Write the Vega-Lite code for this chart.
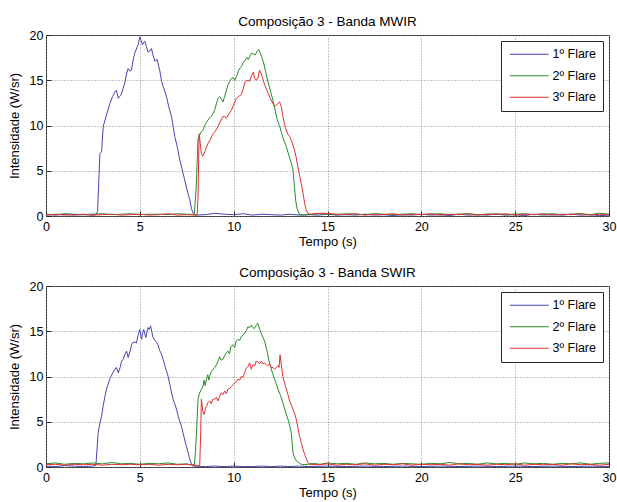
{
"$schema": "https://vega.github.io/schema/vega-lite/v6.json",
"padding": {"left": 7, "top": 14, "right": 0, "bottom": 2},
"background": "white",
"config": {
  "font": "Liberation Sans",
  "view": {"stroke": "#262626", "strokeWidth": 1},
  "axis": {"labelFontSize": 12.5, "titleFontSize": 13, "titleFontWeight": "normal", "labelColor": "#000", "titleColor": "#000", "domain": false, "tickColor": "#262626", "tickSize": -5, "gridColor": "#8c8c8c", "gridDash": [1, 2], "gridOpacity": 1, "labelFlush": false, "labelOverlap": false},
  "title": {"fontSize": 13.5, "fontWeight": "normal", "offset": 1, "color": "#000"},
  "legend": {"orient": "top-right", "offset": 6, "fillColor": "white", "strokeColor": "#262626", "padding": 7, "symbolType": "M-3.9,0L3.9,0", "symbolSize": 100, "symbolStrokeWidth": 1, "symbolOffset": 15, "labelFontSize": 12.5, "labelOffset": 17, "rowPadding": 8.5, "title": null},
  "concat": {"spacing": 70}
},
"bounds": "flush",
"resolve": {"legend": {"color": "independent"}},
"datasets": {
"mwir": [
{"f":1,"t":0,"v":0.15},{"f":1,"t":0.5,"v":0.1},{"f":1,"t":1,"v":0.2},{"f":1,"t":1.5,"v":0.1},{"f":1,"t":2,"v":0.15},{"f":1,"t":2.5,"v":0.1},{"f":1,"t":2.65,"v":0.15},
{"f":1,"t":2.75,"v":0.5},{"f":1,"t":2.87,"v":6.9},{"f":1,"t":2.96,"v":7.1},{"f":1,"t":3.05,"v":9.9},{"f":1,"t":3.2,"v":11},{"f":1,"t":3.4,"v":12.4},{"f":1,"t":3.55,"v":13.2},{"f":1,"t":3.67,"v":13.7},{"f":1,"t":3.75,"v":13.9},{"f":1,"t":3.85,"v":13.0},{"f":1,"t":4.0,"v":13.4},{"f":1,"t":4.2,"v":14.7},{"f":1,"t":4.3,"v":15.8},{"f":1,"t":4.38,"v":16.3},{"f":1,"t":4.47,"v":16.0},{"f":1,"t":4.55,"v":16.1},{"f":1,"t":4.65,"v":17.3},{"f":1,"t":4.73,"v":18.0},{"f":1,"t":4.86,"v":18.7},{"f":1,"t":4.92,"v":19.0},{"f":1,"t":5.0,"v":19.8},{"f":1,"t":5.07,"v":19.4},{"f":1,"t":5.14,"v":18.9},{"f":1,"t":5.2,"v":19.2},{"f":1,"t":5.27,"v":19.3},{"f":1,"t":5.35,"v":18.7},{"f":1,"t":5.44,"v":18.1},{"f":1,"t":5.52,"v":18.2},{"f":1,"t":5.62,"v":18.5},{"f":1,"t":5.7,"v":17.8},{"f":1,"t":5.8,"v":17.1},{"f":1,"t":5.92,"v":17.3},{"f":1,"t":6.0,"v":16.6},{"f":1,"t":6.06,"v":16.1},{"f":1,"t":6.15,"v":15.0},{"f":1,"t":6.24,"v":14.3},{"f":1,"t":6.33,"v":13.8},{"f":1,"t":6.42,"v":13.2},{"f":1,"t":6.55,"v":12.0},{"f":1,"t":6.69,"v":11.0},{"f":1,"t":6.78,"v":9.8},{"f":1,"t":6.86,"v":8.8},{"f":1,"t":7.0,"v":7.6},{"f":1,"t":7.13,"v":6.2},{"f":1,"t":7.25,"v":5.2},{"f":1,"t":7.39,"v":4.0},{"f":1,"t":7.5,"v":3.0},{"f":1,"t":7.66,"v":1.8},{"f":1,"t":7.75,"v":0.8},{"f":1,"t":7.84,"v":0.3},{"f":1,"t":7.95,"v":0.1},
{"f":1,"t":8.5,"v":0.15},{"f":1,"t":9,"v":0.3},{"f":1,"t":9.5,"v":0.2},{"f":1,"t":10,"v":0.15},{"f":1,"t":10.5,"v":0.25},{"f":1,"t":11,"v":0.1},{"f":1,"t":11.5,"v":0.2},{"f":1,"t":12,"v":0.15},{"f":1,"t":12.5,"v":0.1},{"f":1,"t":13,"v":0.2},{"f":1,"t":13.5,"v":0.1},{"f":1,"t":14,"v":0.15},{"f":1,"t":14.5,"v":0.1},{"f":1,"t":15,"v":0.2},{"f":1,"t":15.5,"v":0.1},{"f":1,"t":16,"v":0.15},{"f":1,"t":16.5,"v":0.1},{"f":1,"t":17,"v":0.2},{"f":1,"t":17.5,"v":0.1},{"f":1,"t":18,"v":0.15},{"f":1,"t":18.5,"v":0.05},{"f":1,"t":19,"v":0.15},{"f":1,"t":19.5,"v":0.1},{"f":1,"t":20,"v":0.2},{"f":1,"t":20.5,"v":0.1},{"f":1,"t":21,"v":0.15},{"f":1,"t":21.5,"v":0.05},{"f":1,"t":22,"v":0.2},{"f":1,"t":22.5,"v":0.1},{"f":1,"t":23,"v":0.15},{"f":1,"t":23.5,"v":0.1},{"f":1,"t":24,"v":0.2},{"f":1,"t":24.5,"v":0.1},{"f":1,"t":25,"v":0.15},{"f":1,"t":25.5,"v":0.05},{"f":1,"t":26,"v":0.2},{"f":1,"t":26.5,"v":0.1},{"f":1,"t":27,"v":0.15},{"f":1,"t":27.5,"v":0.1},{"f":1,"t":28,"v":0.2},{"f":1,"t":28.5,"v":0.1},{"f":1,"t":29,"v":0.15},{"f":1,"t":29.5,"v":0.05},{"f":1,"t":30,"v":0.1},
{"f":2,"t":0,"v":0.2},{"f":2,"t":0.5,"v":0.15},{"f":2,"t":1,"v":0.25},{"f":2,"t":1.5,"v":0.2},{"f":2,"t":2,"v":0.15},{"f":2,"t":2.5,"v":0.2},{"f":2,"t":3,"v":0.25},{"f":2,"t":3.5,"v":0.15},{"f":2,"t":4,"v":0.2},{"f":2,"t":4.5,"v":0.25},{"f":2,"t":5,"v":0.15},{"f":2,"t":5.5,"v":0.2},{"f":2,"t":6,"v":0.2},{"f":2,"t":6.5,"v":0.15},{"f":2,"t":7,"v":0.25},{"f":2,"t":7.5,"v":0.2},{"f":2,"t":7.9,"v":0.15},
{"f":2,"t":8.0,"v":3},{"f":2,"t":8.1,"v":8.5},{"f":2,"t":8.19,"v":8.95},{"f":2,"t":8.28,"v":9.3},{"f":2,"t":8.37,"v":9.5},{"f":2,"t":8.5,"v":10.2},{"f":2,"t":8.63,"v":10.6},{"f":2,"t":8.75,"v":10.9},{"f":2,"t":8.9,"v":11.3},{"f":2,"t":9.0,"v":11.8},{"f":2,"t":9.08,"v":12.4},{"f":2,"t":9.17,"v":13.0},{"f":2,"t":9.26,"v":13.2},{"f":2,"t":9.35,"v":12.9},{"f":2,"t":9.43,"v":12.6},{"f":2,"t":9.52,"v":13.2},{"f":2,"t":9.61,"v":13.9},{"f":2,"t":9.7,"v":14.5},{"f":2,"t":9.8,"v":14.9},{"f":2,"t":9.88,"v":15.2},{"f":2,"t":9.97,"v":15.3},{"f":2,"t":10.06,"v":15.0},{"f":2,"t":10.15,"v":15.4},{"f":2,"t":10.25,"v":16.0},{"f":2,"t":10.33,"v":16.3},{"f":2,"t":10.41,"v":16.5},{"f":2,"t":10.5,"v":16.9},{"f":2,"t":10.6,"v":17.2},{"f":2,"t":10.7,"v":17.5},{"f":2,"t":10.78,"v":17.3},{"f":2,"t":10.85,"v":17.6},{"f":2,"t":10.95,"v":18.0},{"f":2,"t":11.05,"v":17.9},{"f":2,"t":11.15,"v":17.8},{"f":2,"t":11.25,"v":18.2},{"f":2,"t":11.33,"v":18.4},{"f":2,"t":11.42,"v":18.0},{"f":2,"t":11.5,"v":17.5},{"f":2,"t":11.6,"v":16.9},{"f":2,"t":11.7,"v":16.0},{"f":2,"t":11.8,"v":15.0},{"f":2,"t":11.9,"v":14.3},{"f":2,"t":12.0,"v":13.5},{"f":2,"t":12.09,"v":12.8},{"f":2,"t":12.2,"v":11.8},{"f":2,"t":12.3,"v":10.8},{"f":2,"t":12.45,"v":9.9},{"f":2,"t":12.55,"v":9.2},{"f":2,"t":12.65,"v":8.5},{"f":2,"t":12.8,"v":7.7},{"f":2,"t":12.9,"v":7.0},{"f":2,"t":13.0,"v":6.3},{"f":2,"t":13.08,"v":5.8},{"f":2,"t":13.16,"v":5.1},{"f":2,"t":13.24,"v":3.2},{"f":2,"t":13.3,"v":1.8},{"f":2,"t":13.38,"v":0.8},{"f":2,"t":13.5,"v":0.2},{"f":2,"t":13.7,"v":0.1},
{"f":2,"t":14,"v":0.15},{"f":2,"t":14.5,"v":0.25},{"f":2,"t":15,"v":0.2},{"f":2,"t":15.5,"v":0.15},{"f":2,"t":16,"v":0.25},{"f":2,"t":16.5,"v":0.2},{"f":2,"t":17,"v":0.15},{"f":2,"t":17.5,"v":0.25},{"f":2,"t":18,"v":0.2},{"f":2,"t":18.5,"v":0.15},{"f":2,"t":19,"v":0.2},{"f":2,"t":19.5,"v":0.25},{"f":2,"t":20,"v":0.15},{"f":2,"t":20.5,"v":0.2},{"f":2,"t":21,"v":0.25},{"f":2,"t":21.5,"v":0.15},{"f":2,"t":22,"v":0.2},{"f":2,"t":22.5,"v":0.25},{"f":2,"t":23,"v":0.15},{"f":2,"t":23.5,"v":0.2},{"f":2,"t":24,"v":0.25},{"f":2,"t":24.5,"v":0.15},{"f":2,"t":25,"v":0.2},{"f":2,"t":25.5,"v":0.25},{"f":2,"t":26,"v":0.15},{"f":2,"t":26.5,"v":0.2},{"f":2,"t":27,"v":0.25},{"f":2,"t":27.5,"v":0.15},{"f":2,"t":28,"v":0.2},{"f":2,"t":28.5,"v":0.25},{"f":2,"t":29,"v":0.15},{"f":2,"t":29.5,"v":0.3},{"f":2,"t":30,"v":0.2},
{"f":3,"t":0,"v":0.1},{"f":3,"t":0.5,"v":0.2},{"f":3,"t":1,"v":0.1},{"f":3,"t":1.5,"v":0.15},{"f":3,"t":2,"v":0.2},{"f":3,"t":2.5,"v":0.1},{"f":3,"t":3,"v":0.15},{"f":3,"t":3.5,"v":0.2},{"f":3,"t":4,"v":0.1},{"f":3,"t":4.5,"v":0.15},{"f":3,"t":5,"v":0.2},{"f":3,"t":5.5,"v":0.1},{"f":3,"t":6,"v":0.15},{"f":3,"t":6.5,"v":0.25},{"f":3,"t":7,"v":0.1},{"f":3,"t":7.5,"v":0.15},{"f":3,"t":8.05,"v":0.1},
{"f":3,"t":8.1,"v":2},{"f":3,"t":8.16,"v":9.1},{"f":3,"t":8.22,"v":8.0},{"f":3,"t":8.28,"v":6.9},{"f":3,"t":8.35,"v":6.6},{"f":3,"t":8.46,"v":7.1},{"f":3,"t":8.55,"v":7.6},{"f":3,"t":8.63,"v":8.0},{"f":3,"t":8.75,"v":8.4},{"f":3,"t":8.9,"v":9.1},{"f":3,"t":9.0,"v":9.3},{"f":3,"t":9.17,"v":9.9},{"f":3,"t":9.3,"v":10.5},{"f":3,"t":9.43,"v":11.0},{"f":3,"t":9.52,"v":11.0},{"f":3,"t":9.61,"v":10.8},{"f":3,"t":9.75,"v":11.3},{"f":3,"t":9.88,"v":11.7},{"f":3,"t":10.0,"v":12.3},{"f":3,"t":10.14,"v":13.0},{"f":3,"t":10.25,"v":13.2},{"f":3,"t":10.41,"v":13.4},{"f":3,"t":10.5,"v":14.0},{"f":3,"t":10.59,"v":14.7},{"f":3,"t":10.7,"v":15.0},{"f":3,"t":10.85,"v":14.9},{"f":3,"t":10.95,"v":15.5},{"f":3,"t":11.05,"v":15.9},{"f":3,"t":11.12,"v":15.2},{"f":3,"t":11.2,"v":15.0},{"f":3,"t":11.3,"v":15.3},{"f":3,"t":11.38,"v":16.1},{"f":3,"t":11.45,"v":15.8},{"f":3,"t":11.55,"v":15.2},{"f":3,"t":11.65,"v":14.5},{"f":3,"t":11.75,"v":14.0},{"f":3,"t":11.85,"v":13.5},{"f":3,"t":11.95,"v":13.0},{"f":3,"t":12.05,"v":12.6},{"f":3,"t":12.18,"v":12.1},{"f":3,"t":12.3,"v":12.3},{"f":3,"t":12.45,"v":12.6},{"f":3,"t":12.55,"v":12.0},{"f":3,"t":12.62,"v":11.0},{"f":3,"t":12.75,"v":9.8},{"f":3,"t":12.9,"v":9.0},{"f":3,"t":12.98,"v":8.8},{"f":3,"t":13.1,"v":8.2},{"f":3,"t":13.24,"v":7.3},{"f":3,"t":13.33,"v":6.5},{"f":3,"t":13.42,"v":5.4},{"f":3,"t":13.5,"v":4.6},{"f":3,"t":13.6,"v":3.6},{"f":3,"t":13.7,"v":2.5},{"f":3,"t":13.78,"v":1.4},{"f":3,"t":13.87,"v":0.7},{"f":3,"t":13.95,"v":0.3},{"f":3,"t":14.1,"v":0.2},
{"f":3,"t":14.5,"v":0.3},{"f":3,"t":15,"v":0.3},{"f":3,"t":15.5,"v":0.2},{"f":3,"t":16,"v":0.15},{"f":3,"t":16.5,"v":0.25},{"f":3,"t":17,"v":0.1},{"f":3,"t":17.5,"v":0.2},{"f":3,"t":18,"v":0.15},{"f":3,"t":18.5,"v":0.25},{"f":3,"t":19,"v":0.1},{"f":3,"t":19.5,"v":0.2},{"f":3,"t":20,"v":0.15},{"f":3,"t":20.5,"v":0.25},{"f":3,"t":21,"v":0.1},{"f":3,"t":21.5,"v":0.2},{"f":3,"t":22,"v":0.15},{"f":3,"t":22.5,"v":0.25},{"f":3,"t":23,"v":0.1},{"f":3,"t":23.5,"v":0.2},{"f":3,"t":24,"v":0.15},{"f":3,"t":24.5,"v":0.25},{"f":3,"t":25,"v":0.1},{"f":3,"t":25.5,"v":0.2},{"f":3,"t":26,"v":0.15},{"f":3,"t":26.5,"v":0.25},{"f":3,"t":27,"v":0.1},{"f":3,"t":27.5,"v":0.2},{"f":3,"t":28,"v":0.15},{"f":3,"t":28.5,"v":0.25},{"f":3,"t":29,"v":0.1},{"f":3,"t":29.5,"v":0.2},{"f":3,"t":30,"v":0.15}
],
"swir": [
{"f":1,"t":0,"v":0.1},{"f":1,"t":0.5,"v":0.05},{"f":1,"t":1,"v":0.15},{"f":1,"t":1.5,"v":0.1},{"f":1,"t":2,"v":0.05},{"f":1,"t":2.5,"v":0.1},{"f":1,"t":2.66,"v":0.2},
{"f":1,"t":2.72,"v":2.0},{"f":1,"t":2.78,"v":3.8},{"f":1,"t":2.87,"v":4.8},{"f":1,"t":2.96,"v":5.6},{"f":1,"t":3.05,"v":6.8},{"f":1,"t":3.14,"v":7.8},{"f":1,"t":3.25,"v":8.8},{"f":1,"t":3.4,"v":9.7},{"f":1,"t":3.55,"v":10.4},{"f":1,"t":3.67,"v":10.8},{"f":1,"t":3.75,"v":11.0},{"f":1,"t":3.85,"v":10.4},{"f":1,"t":3.95,"v":11.0},{"f":1,"t":4.03,"v":11.7},{"f":1,"t":4.11,"v":11.9},{"f":1,"t":4.2,"v":12.4},{"f":1,"t":4.29,"v":12.8},{"f":1,"t":4.38,"v":12.1},{"f":1,"t":4.47,"v":12.7},{"f":1,"t":4.56,"v":13.5},{"f":1,"t":4.65,"v":13.8},{"f":1,"t":4.75,"v":13.8},{"f":1,"t":4.82,"v":13.7},{"f":1,"t":4.9,"v":14.5},{"f":1,"t":5.0,"v":15.2},{"f":1,"t":5.05,"v":14.6},{"f":1,"t":5.09,"v":14.1},{"f":1,"t":5.15,"v":14.8},{"f":1,"t":5.21,"v":15.2},{"f":1,"t":5.27,"v":14.7},{"f":1,"t":5.32,"v":14.3},{"f":1,"t":5.38,"v":14.9},{"f":1,"t":5.44,"v":15.4},{"f":1,"t":5.5,"v":15.2},{"f":1,"t":5.57,"v":15.6},{"f":1,"t":5.63,"v":15.0},{"f":1,"t":5.71,"v":14.3},{"f":1,"t":5.8,"v":14.0},{"f":1,"t":5.88,"v":13.8},{"f":1,"t":5.97,"v":13.5},{"f":1,"t":6.05,"v":12.9},{"f":1,"t":6.15,"v":12.5},{"f":1,"t":6.24,"v":11.9},{"f":1,"t":6.33,"v":11.2},{"f":1,"t":6.42,"v":10.6},{"f":1,"t":6.51,"v":10.0},{"f":1,"t":6.6,"v":9.1},{"f":1,"t":6.68,"v":8.3},{"f":1,"t":6.77,"v":7.5},{"f":1,"t":6.86,"v":7.0},{"f":1,"t":6.95,"v":6.4},{"f":1,"t":7.05,"v":5.6},{"f":1,"t":7.13,"v":5.0},{"f":1,"t":7.22,"v":4.5},{"f":1,"t":7.3,"v":3.8},{"f":1,"t":7.39,"v":3.0},{"f":1,"t":7.48,"v":2.3},{"f":1,"t":7.57,"v":1.6},{"f":1,"t":7.66,"v":0.9},{"f":1,"t":7.75,"v":0.3},{"f":1,"t":7.84,"v":0.1},
{"f":1,"t":8.5,"v":0.05},{"f":1,"t":9,"v":0.1},{"f":1,"t":9.5,"v":0.05},{"f":1,"t":10,"v":0.1},{"f":1,"t":10.5,"v":0.05},{"f":1,"t":11,"v":0.05},{"f":1,"t":11.5,"v":0.1},{"f":1,"t":12,"v":0.05},{"f":1,"t":12.5,"v":0.1},{"f":1,"t":13,"v":0.05},{"f":1,"t":13.5,"v":0.1},{"f":1,"t":14,"v":0.05},{"f":1,"t":15,"v":0.1},{"f":1,"t":16,"v":0.05},{"f":1,"t":17,"v":0.1},{"f":1,"t":18,"v":0.05},{"f":1,"t":19,"v":0.1},{"f":1,"t":20,"v":0.05},{"f":1,"t":21,"v":0.1},{"f":1,"t":22,"v":0.05},{"f":1,"t":23,"v":0.1},{"f":1,"t":24,"v":0.05},{"f":1,"t":25,"v":0.1},{"f":1,"t":26,"v":0.05},{"f":1,"t":27,"v":0.1},{"f":1,"t":28,"v":0.05},{"f":1,"t":29,"v":0.1},{"f":1,"t":30,"v":0.05},
{"f":2,"t":0,"v":0.35},{"f":2,"t":0.5,"v":0.45},{"f":2,"t":1,"v":0.3},{"f":2,"t":1.5,"v":0.4},{"f":2,"t":2,"v":0.35},{"f":2,"t":2.5,"v":0.45},{"f":2,"t":3,"v":0.35},{"f":2,"t":3.5,"v":0.5},{"f":2,"t":4,"v":0.35},{"f":2,"t":4.5,"v":0.4},{"f":2,"t":5,"v":0.3},{"f":2,"t":5.5,"v":0.4},{"f":2,"t":6,"v":0.35},{"f":2,"t":6.5,"v":0.45},{"f":2,"t":7,"v":0.3},{"f":2,"t":7.5,"v":0.35},{"f":2,"t":7.8,"v":0.2},
{"f":2,"t":7.9,"v":0.2},{"f":2,"t":7.96,"v":1.5},{"f":2,"t":8.02,"v":3.8},{"f":2,"t":8.1,"v":7.5},{"f":2,"t":8.19,"v":8.2},{"f":2,"t":8.28,"v":8.6},{"f":2,"t":8.37,"v":8.9},{"f":2,"t":8.42,"v":9.6},{"f":2,"t":8.48,"v":9.0},{"f":2,"t":8.55,"v":9.7},{"f":2,"t":8.62,"v":10.2},{"f":2,"t":8.68,"v":9.6},{"f":2,"t":8.72,"v":10.0},{"f":2,"t":8.8,"v":10.5},{"f":2,"t":8.9,"v":10.8},{"f":2,"t":9.0,"v":11.0},{"f":2,"t":9.08,"v":11.3},{"f":2,"t":9.17,"v":11.7},{"f":2,"t":9.25,"v":12.2},{"f":2,"t":9.33,"v":11.8},{"f":2,"t":9.43,"v":11.9},{"f":2,"t":9.52,"v":12.3},{"f":2,"t":9.6,"v":12.6},{"f":2,"t":9.7,"v":12.8},{"f":2,"t":9.78,"v":12.5},{"f":2,"t":9.85,"v":13.3},{"f":2,"t":9.96,"v":13.5},{"f":2,"t":10.05,"v":13.2},{"f":2,"t":10.13,"v":13.9},{"f":2,"t":10.23,"v":14.1},{"f":2,"t":10.32,"v":14.0},{"f":2,"t":10.4,"v":14.4},{"f":2,"t":10.5,"v":14.6},{"f":2,"t":10.6,"v":14.8},{"f":2,"t":10.68,"v":15.1},{"f":2,"t":10.76,"v":15.5},{"f":2,"t":10.85,"v":15.4},{"f":2,"t":10.94,"v":15.7},{"f":2,"t":11.02,"v":15.4},{"f":2,"t":11.1,"v":15.3},{"f":2,"t":11.19,"v":15.6},{"f":2,"t":11.28,"v":15.9},{"f":2,"t":11.33,"v":15.6},{"f":2,"t":11.38,"v":15.2},{"f":2,"t":11.5,"v":14.6},{"f":2,"t":11.65,"v":13.9},{"f":2,"t":11.78,"v":12.8},{"f":2,"t":11.91,"v":11.5},{"f":2,"t":12.05,"v":10.5},{"f":2,"t":12.18,"v":9.7},{"f":2,"t":12.27,"v":9.2},{"f":2,"t":12.36,"v":8.6},{"f":2,"t":12.5,"v":7.9},{"f":2,"t":12.62,"v":7.1},{"f":2,"t":12.75,"v":6.2},{"f":2,"t":12.89,"v":5.3},{"f":2,"t":12.98,"v":4.6},{"f":2,"t":13.07,"v":3.8},{"f":2,"t":13.12,"v":2.6},{"f":2,"t":13.16,"v":1.6},{"f":2,"t":13.25,"v":1.0},{"f":2,"t":13.33,"v":0.7},{"f":2,"t":13.45,"v":0.5},{"f":2,"t":13.6,"v":0.3},{"f":2,"t":13.8,"v":0.25},
{"f":2,"t":14.2,"v":0.4},{"f":2,"t":14.6,"v":0.3},{"f":2,"t":15,"v":0.45},{"f":2,"t":15.5,"v":0.35},{"f":2,"t":16,"v":0.4},{"f":2,"t":16.5,"v":0.3},{"f":2,"t":17,"v":0.45},{"f":2,"t":17.5,"v":0.35},{"f":2,"t":18,"v":0.4},{"f":2,"t":18.5,"v":0.3},{"f":2,"t":19,"v":0.4},{"f":2,"t":19.5,"v":0.35},{"f":2,"t":20,"v":0.3},{"f":2,"t":20.5,"v":0.4},{"f":2,"t":21,"v":0.35},{"f":2,"t":21.5,"v":0.5},{"f":2,"t":22,"v":0.35},{"f":2,"t":22.5,"v":0.4},{"f":2,"t":23,"v":0.3},{"f":2,"t":23.5,"v":0.45},{"f":2,"t":24,"v":0.35},{"f":2,"t":24.5,"v":0.4},{"f":2,"t":25,"v":0.3},{"f":2,"t":25.5,"v":0.45},{"f":2,"t":26,"v":0.35},{"f":2,"t":26.5,"v":0.4},{"f":2,"t":27,"v":0.3},{"f":2,"t":27.5,"v":0.4},{"f":2,"t":28,"v":0.35},{"f":2,"t":28.5,"v":0.45},{"f":2,"t":29,"v":0.3},{"f":2,"t":29.5,"v":0.4},{"f":2,"t":30,"v":0.45},
{"f":3,"t":0,"v":0.25},{"f":3,"t":0.5,"v":0.3},{"f":3,"t":1,"v":0.2},{"f":3,"t":1.5,"v":0.3},{"f":3,"t":2,"v":0.25},{"f":3,"t":2.5,"v":0.3},{"f":3,"t":3,"v":0.2},{"f":3,"t":3.5,"v":0.3},{"f":3,"t":4,"v":0.25},{"f":3,"t":4.5,"v":0.3},{"f":3,"t":5,"v":0.25},{"f":3,"t":5.5,"v":0.3},{"f":3,"t":6,"v":0.2},{"f":3,"t":6.5,"v":0.3},{"f":3,"t":7,"v":0.25},{"f":3,"t":7.5,"v":0.3},{"f":3,"t":8,"v":0.2},{"f":3,"t":8.19,"v":0.1},
{"f":3,"t":8.24,"v":3.5},{"f":3,"t":8.28,"v":7.5},{"f":3,"t":8.35,"v":6.2},{"f":3,"t":8.42,"v":5.8},{"f":3,"t":8.5,"v":6.5},{"f":3,"t":8.55,"v":6.7},{"f":3,"t":8.63,"v":7.1},{"f":3,"t":8.72,"v":7.3},{"f":3,"t":8.8,"v":7.0},{"f":3,"t":8.9,"v":7.5},{"f":3,"t":8.99,"v":7.5},{"f":3,"t":9.08,"v":7.7},{"f":3,"t":9.17,"v":7.3},{"f":3,"t":9.25,"v":7.8},{"f":3,"t":9.34,"v":8.2},{"f":3,"t":9.43,"v":8.0},{"f":3,"t":9.52,"v":8.4},{"f":3,"t":9.61,"v":8.1},{"f":3,"t":9.7,"v":8.6},{"f":3,"t":9.8,"v":8.7},{"f":3,"t":9.88,"v":8.9},{"f":3,"t":9.97,"v":9.1},{"f":3,"t":10.05,"v":9.3},{"f":3,"t":10.14,"v":9.4},{"f":3,"t":10.23,"v":9.7},{"f":3,"t":10.32,"v":9.6},{"f":3,"t":10.41,"v":10.0},{"f":3,"t":10.5,"v":9.9},{"f":3,"t":10.58,"v":10.4},{"f":3,"t":10.67,"v":10.9},{"f":3,"t":10.76,"v":11.1},{"f":3,"t":10.85,"v":11.5},{"f":3,"t":10.94,"v":10.8},{"f":3,"t":11.03,"v":11.3},{"f":3,"t":11.12,"v":11.2},{"f":3,"t":11.2,"v":11.7},{"f":3,"t":11.3,"v":11.6},{"f":3,"t":11.38,"v":11.4},{"f":3,"t":11.47,"v":11.7},{"f":3,"t":11.55,"v":11.4},{"f":3,"t":11.65,"v":11.5},{"f":3,"t":11.75,"v":11.3},{"f":3,"t":11.82,"v":11.2},{"f":3,"t":11.92,"v":11.4},{"f":3,"t":12.0,"v":11.0},{"f":3,"t":12.1,"v":11.0},{"f":3,"t":12.18,"v":10.8},{"f":3,"t":12.27,"v":11.0},{"f":3,"t":12.36,"v":11.2},{"f":3,"t":12.42,"v":11.0},{"f":3,"t":12.47,"v":12.4},{"f":3,"t":12.52,"v":11.6},{"f":3,"t":12.58,"v":10.7},{"f":3,"t":12.62,"v":10.0},{"f":3,"t":12.75,"v":9.0},{"f":3,"t":12.89,"v":8.0},{"f":3,"t":13.0,"v":7.2},{"f":3,"t":13.16,"v":6.4},{"f":3,"t":13.25,"v":5.9},{"f":3,"t":13.33,"v":5.3},{"f":3,"t":13.42,"v":4.4},{"f":3,"t":13.51,"v":3.4},{"f":3,"t":13.6,"v":2.7},{"f":3,"t":13.69,"v":2.0},{"f":3,"t":13.78,"v":1.4},{"f":3,"t":13.87,"v":0.9},{"f":3,"t":13.95,"v":0.5},{"f":3,"t":14.05,"v":0.3},
{"f":3,"t":14.5,"v":0.25},{"f":3,"t":15,"v":0.35},{"f":3,"t":15.5,"v":0.2},{"f":3,"t":16,"v":0.3},{"f":3,"t":16.5,"v":0.25},{"f":3,"t":17,"v":0.35},{"f":3,"t":17.5,"v":0.2},{"f":3,"t":18,"v":0.3},{"f":3,"t":18.5,"v":0.25},{"f":3,"t":19,"v":0.35},{"f":3,"t":19.5,"v":0.2},{"f":3,"t":20,"v":0.3},{"f":3,"t":20.5,"v":0.25},{"f":3,"t":21,"v":0.3},{"f":3,"t":21.5,"v":0.2},{"f":3,"t":22,"v":0.35},{"f":3,"t":22.5,"v":0.25},{"f":3,"t":23,"v":0.3},{"f":3,"t":23.5,"v":0.2},{"f":3,"t":24,"v":0.3},{"f":3,"t":24.5,"v":0.25},{"f":3,"t":25,"v":0.35},{"f":3,"t":25.5,"v":0.2},{"f":3,"t":26,"v":0.3},{"f":3,"t":26.5,"v":0.25},{"f":3,"t":27,"v":0.3},{"f":3,"t":27.5,"v":0.2},{"f":3,"t":28,"v":0.35},{"f":3,"t":28.5,"v":0.25},{"f":3,"t":29,"v":0.3},{"f":3,"t":29.5,"v":0.2},{"f":3,"t":30,"v":0.3}
]
},
"vconcat": [
{
  "width": 563, "height": 181,
  "title": "Composição 3 - Banda MWIR",
  "data": {"name": "mwir"},
  "mark": {"type": "line", "strokeWidth": 1},
  "encoding": {
    "x": {"field": "t", "type": "quantitative", "scale": {"domain": [0, 30], "nice": false}, "axis": {"title": "Tempo (s)", "values": [0, 5, 10, 15, 20, 25, 30], "labelPadding": 9, "titlePadding": 3}},
    "y": {"field": "v", "type": "quantitative", "scale": {"domain": [0, 20], "nice": false}, "axis": {"title": "Intensidade (W/sr)", "values": [0, 5, 10, 15, 20], "labelPadding": 8, "titlePadding": 8}},
    "color": {"field": "f", "type": "nominal", "scale": {"domain": [1, 2, 3], "range": ["#4545b0", "#2a8a2a", "#e03030"]}, "legend": {"labelExpr": "datum.label + 'º Flare'"}}
  }
},
{
  "width": 563, "height": 181,
  "title": "Composição 3 - Banda SWIR",
  "data": {"name": "swir"},
  "mark": {"type": "line", "strokeWidth": 1},
  "encoding": {
    "x": {"field": "t", "type": "quantitative", "scale": {"domain": [0, 30], "nice": false}, "axis": {"title": "Tempo (s)", "values": [0, 5, 10, 15, 20, 25, 30], "labelPadding": 9, "titlePadding": 3}},
    "y": {"field": "v", "type": "quantitative", "scale": {"domain": [0, 20], "nice": false}, "axis": {"title": "Intensidade (W/sr)", "values": [0, 5, 10, 15, 20], "labelPadding": 8, "titlePadding": 8}},
    "color": {"field": "f", "type": "nominal", "scale": {"domain": [1, 2, 3], "range": ["#4545b0", "#2a8a2a", "#e03030"]}, "legend": {"labelExpr": "datum.label + 'º Flare'"}}
  }
}
]
}
